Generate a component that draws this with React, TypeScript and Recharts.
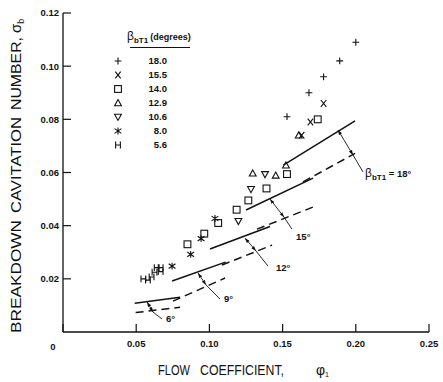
import React from 'react';
import { ScatterChart, Scatter, XAxis, YAxis, ReferenceLine, ReferenceDot } from 'recharts';

type Pt = { x: number; y: number };

// measured breakdown points, one array per blade angle (beta_bT1, degrees)
const beta180: Pt[] = [
  { x: 0.153, y: 0.081 }, { x: 0.168, y: 0.090 }, { x: 0.178, y: 0.096 },
  { x: 0.189, y: 0.102 }, { x: 0.200, y: 0.109 },
];
const beta155: Pt[] = [
  { x: 0.163, y: 0.074 }, { x: 0.169, y: 0.079 }, { x: 0.178, y: 0.086 },
];
const beta140: Pt[] = [
  { x: 0.085, y: 0.033 }, { x: 0.0965, y: 0.037 }, { x: 0.106, y: 0.041 },
  { x: 0.1186, y: 0.046 }, { x: 0.1266, y: 0.0495 }, { x: 0.139, y: 0.054 },
  { x: 0.153, y: 0.0594 }, { x: 0.174, y: 0.080 },
];
const beta129: Pt[] = [
  { x: 0.1296, y: 0.0597 }, { x: 0.1453, y: 0.0589 }, { x: 0.1523, y: 0.0627 },
  { x: 0.161, y: 0.074 },
];
const beta106: Pt[] = [
  { x: 0.1198, y: 0.0417 }, { x: 0.1284, y: 0.0537 }, { x: 0.138, y: 0.0593 },
];
const beta80: Pt[] = [
  { x: 0.0745, y: 0.0248 }, { x: 0.0872, y: 0.0292 }, { x: 0.0943, y: 0.0351 },
  { x: 0.1038, y: 0.0427 },
];
const beta56: Pt[] = [
  { x: 0.0549, y: 0.0200 }, { x: 0.0580, y: 0.0195 }, { x: 0.0605, y: 0.0207 },
  { x: 0.0625, y: 0.0225 }, { x: 0.0640, y: 0.0242 }, { x: 0.0667, y: 0.0242 },
  { x: 0.0667, y: 0.0227 },
];

// predicted breakdown: solid / dashed pairs
const solid6: Pt[] = [{ x: 0.049, y: 0.0108 }, { x: 0.080, y: 0.0131 }];
const dash6: Pt[] = [{ x: 0.0496, y: 0.0073 }, { x: 0.080, y: 0.0093 }];
const solid9: Pt[] = [{ x: 0.0745, y: 0.0192 }, { x: 0.111, y: 0.0263 }];
const dash9: Pt[] = [{ x: 0.0751, y: 0.0116 }, { x: 0.1107, y: 0.0203 }];
const solid12: Pt[] = [{ x: 0.1004, y: 0.0312 }, { x: 0.1414, y: 0.0397 }];
const dash12: Pt[] = [{ x: 0.1086, y: 0.0252 }, { x: 0.1428, y: 0.0327 }];
const solid15: Pt[] = [{ x: 0.125, y: 0.0459 }, { x: 0.1708, y: 0.0579 }];
const dash15: Pt[] = [{ x: 0.1325, y: 0.0387 }, { x: 0.1708, y: 0.0470 }];
const solid18: Pt[] = [{ x: 0.1505, y: 0.0628 }, { x: 0.1995, y: 0.0794 }];
const dash18: Pt[] = [{ x: 0.164, y: 0.0565 }, { x: 0.1995, y: 0.0672 }];

// leader lines solid -> dashed -> label
const leader6: Pt[] = [{ x: 0.0574, y: 0.0113 }, { x: 0.0615, y: 0.0075 }, { x: 0.0676, y: 0.0049 }];
const leader9: Pt[] = [{ x: 0.0922, y: 0.0222 }, { x: 0.0977, y: 0.0177 }, { x: 0.1072, y: 0.0124 }];
const leader12: Pt[] = [{ x: 0.1243, y: 0.0353 }, { x: 0.1318, y: 0.0305 }, { x: 0.140, y: 0.0248 }];
const leader15: Pt[] = [{ x: 0.1414, y: 0.0500 }, { x: 0.1510, y: 0.0432 }, { x: 0.1564, y: 0.0387 }];
const leader18: Pt[] = [{ x: 0.1878, y: 0.0760 }, { x: 0.1981, y: 0.0666 }, { x: 0.2049, y: 0.0602 }];

const angleLabels = [
  { x: 0.0703, y: 0.0038, text: '6°' },
  { x: 0.110, y: 0.0113, text: '9°' },
  { x: 0.1455, y: 0.0229, text: '12°' },
  { x: 0.1592, y: 0.0346, text: '15°' },
];
const betaLabel = { x: 0.2063, y: 0.0583, text: '= 18°' };

const xTicks = [0, 0.05, 0.1, 0.15, 0.2, 0.25];
const yTicks = [0.02, 0.04, 0.06, 0.08, 0.1, 0.12];
const frameTicksX = [0.05, 0.1, 0.15, 0.2];
const frameTicksY = [0.02, 0.04, 0.06, 0.08, 0.1];

const legendRows = [
  { kind: 'plus', label: '18.0' },
  { kind: 'cross', label: '15.5' },
  { kind: 'square', label: '14.0' },
  { kind: 'tri', label: '12.9' },
  { kind: 'tridown', label: '10.6' },
  { kind: 'star', label: '8.0' },
  { kind: 'h', label: '5.6' },
];

const FONT = '"Liberation Sans", Arial, Helvetica, sans-serif';
const INK = '#111';

function Marker({ kind, cx, cy }: { kind: string; cx: number; cy: number }) {
  const s = 3.4;
  const st = { stroke: INK, strokeWidth: 1.1, fill: 'none' };
  switch (kind) {
    case 'plus':
      return <path d={`M${cx - s},${cy}H${cx + s}M${cx},${cy - s}V${cy + s}`} {...st} />;
    case 'cross':
      return <path d={`M${cx - s * 0.8},${cy - s}L${cx + s * 0.8},${cy + s}M${cx + s * 0.8},${cy - s}L${cx - s * 0.8},${cy + s}`} {...st} />;
    case 'square':
      return <rect x={cx - s} y={cy - s} width={2 * s} height={2 * s} {...st} />;
    case 'tri':
      return <polygon points={`${cx},${cy - s} ${cx + s},${cy + s * 0.8} ${cx - s},${cy + s * 0.8}`} {...st} />;
    case 'tridown':
      return <polygon points={`${cx - s},${cy - s * 0.8} ${cx + s},${cy - s * 0.8} ${cx},${cy + s}`} {...st} />;
    case 'star':
      return <path d={`M${cx - s},${cy - s * 0.7}L${cx + s},${cy + s * 0.7}M${cx + s},${cy - s * 0.7}L${cx - s},${cy + s * 0.7}M${cx},${cy - s}V${cy + s}`} {...st} />;
    case 'h':
      return <path d={`M${cx - s * 0.7},${cy - s}V${cy + s}M${cx + s * 0.7},${cy - s}V${cy + s}M${cx - s * 0.7},${cy}H${cx + s * 0.7}`} {...st} />;
    default:
      return null;
  }
}

const shapeOf = (kind: string) => (p: any) => <Marker kind={kind} cx={p.cx} cy={p.cy} />;

const fmt = (v: number) => (v === 0 ? '0' : v.toFixed(2));

function XTick(props: any) {
  const { x, y, payload } = props;
  const zero = payload.value === 0;
  return (
    <text x={zero ? x - 10 : x} y={zero ? y + 3 : y} dy="0.71em" textAnchor="middle"
      fontFamily={FONT} fontSize={9.5} fontWeight="bold" fill={INK}>
      {fmt(payload.value)}
    </text>
  );
}

function YTick(props: any) {
  const { x, y, payload } = props;
  return (
    <text x={x} y={y} dy="0.355em" textAnchor="end" fontFamily={FONT} fontSize={9.5} fontWeight="bold" fill={INK}>
      {fmt(payload.value)}
    </text>
  );
}

function segments(pts: Pt[]) {
  const out: [Pt, Pt][] = [];
  for (let i = 0; i < pts.length - 1; i++) out.push([pts[i], pts[i + 1]]);
  return out;
}

// dimension arrow (solid -> dashed) gets heads at both ends
const arrowLine = (p: any) => (
  <line x1={p.x1} y1={p.y1} x2={p.x2} y2={p.y2} stroke={INK} strokeWidth={0.9}
    markerStart="url(#arrowHead)" markerEnd="url(#arrowHead)" />
);

const frame = { stroke: INK, strokeWidth: 1.3 };

export default function App() {
  const solids = [solid6, solid9, solid12, solid15, solid18];
  const dashes = [dash6, dash9, dash12, dash15, dash18];
  const leaders = [leader6, leader9, leader12, leader15, leader18];

  return (
    <div style={{ position: 'absolute', left: 0, top: 0, width: 443, height: 382, background: '#fff' }}>
      <svg width={0} height={0} style={{ position: 'absolute' }}>
        <defs>
          <marker id="arrowHead" viewBox="0 0 10 10" refX="10" refY="5" markerWidth="5" markerHeight="5"
            orient="auto-start-reverse" markerUnits="userSpaceOnUse">
            <path d="M0,1.5L10,5L0,8.5z" fill={INK} />
          </marker>
        </defs>
      </svg>
      <ScatterChart width={443} height={382} margin={{ top: 13, right: 14, bottom: 20, left: 23 }}>
        <XAxis type="number" dataKey="x" domain={[0, 0.25]} ticks={xTicks} height={30}
          tickSize={-8} tickMargin={16} tick={<XTick />} axisLine={frame}
          tickLine={{ stroke: INK, strokeWidth: 1.2 }} allowDataOverflow />
        <XAxis xAxisId="top" orientation="top" type="number" domain={[0, 0.25]} ticks={frameTicksX}
          height={0} tickSize={-8} tick={false} axisLine={frame} tickLine={{ stroke: INK, strokeWidth: 1.2 }} />
        <YAxis type="number" dataKey="y" domain={[0, 0.12]} ticks={yTicks} width={40}
          tickSize={-8} tickMargin={12} tick={<YTick />} axisLine={frame}
          tickLine={{ stroke: INK, strokeWidth: 1.2 }} allowDataOverflow />
        <YAxis yAxisId="right" orientation="right" type="number" domain={[0, 0.12]} ticks={frameTicksY}
          width={0} tickSize={-8} tick={false} axisLine={frame} tickLine={{ stroke: INK, strokeWidth: 1.2 }} />

        {solids.map((s, i) => (
          <ReferenceLine key={`s${i}`} segment={[s[0], s[1]]} stroke={INK} strokeWidth={1.5} ifOverflow="visible" />
        ))}
        {dashes.map((s, i) => (
          <ReferenceLine key={`d${i}`} segment={[s[0], s[1]]} stroke={INK} strokeWidth={1.5}
            strokeDasharray="8 5" ifOverflow="visible" />
        ))}
        {leaders.flatMap((l, i) =>
          segments(l).map((seg, j) => (
            <ReferenceLine key={`l${i}-${j}`} segment={seg} stroke={INK} strokeWidth={0.9} ifOverflow="visible"
              shape={j === 0 ? arrowLine : undefined} />
          ))
        )}
        {angleLabels.map((a) => (
          <ReferenceDot key={a.text} x={a.x} y={a.y} r={0} fill="none" stroke="none" ifOverflow="visible"
            label={{
              content: (p: any) => (
                <text x={p.viewBox.x} y={p.viewBox.y} fontFamily={FONT} fontSize={9.5} fontWeight="bold" fill={INK}>
                  {a.text}
                </text>
              ),
            }} />
        ))}
        <ReferenceDot x={betaLabel.x} y={betaLabel.y} r={0} fill="none" stroke="none" ifOverflow="visible"
          label={{
            content: (p: any) => (
              <text x={p.viewBox.x} y={p.viewBox.y} fontFamily={FONT} fontSize={9.5} fontWeight="bold" fill={INK}>
                <tspan fontSize={12} fontWeight="normal">β</tspan>
                <tspan fontSize={8} dy={3}>bT1</tspan>
                <tspan dy={-3}>{' ' + betaLabel.text}</tspan>
              </text>
            ),
          }} />

        <Scatter data={beta180} shape={shapeOf('plus')} isAnimationActive={false} />
        <Scatter data={beta155} shape={shapeOf('cross')} isAnimationActive={false} />
        <Scatter data={beta140} shape={shapeOf('square')} isAnimationActive={false} />
        <Scatter data={beta129} shape={shapeOf('tri')} isAnimationActive={false} />
        <Scatter data={beta106} shape={shapeOf('tridown')} isAnimationActive={false} />
        <Scatter data={beta80} shape={shapeOf('star')} isAnimationActive={false} />
        <Scatter data={beta56} shape={shapeOf('h')} isAnimationActive={false} />
      </ScatterChart>

      <svg width={443} height={382} style={{ position: 'absolute', left: 0, top: 0, pointerEvents: 'none' }}>
        {/* legend */}
        <text x={127} y={40} fontFamily={FONT} fill={INK}>
          <tspan fontSize={12}>β</tspan>
          <tspan fontSize={8} fontWeight="bold" dy={3}>bT1</tspan>
          <tspan fontSize={9} fontWeight="bold" dy={-3} dx={2}>(degrees)</tspan>
        </text>
        <line x1={130} x2={190} y1={47.5} y2={47.5} stroke={INK} strokeWidth={1} />
        {legendRows.map((r, i) => (
          <g key={r.label}>
            <Marker kind={r.kind} cx={118} cy={61 + i * 14} />
            <text x={167} y={64 + i * 14} textAnchor="end" fontFamily={FONT} fontSize={9.5} fontWeight="bold" fill={INK}>
              {r.label}
            </text>
          </g>
        ))}

        {/* axis titles */}
        <text y={375} fontFamily={FONT} fontSize={14} fill={INK}>
          <tspan x={158} textLength={32} lengthAdjust="spacingAndGlyphs">FLOW</tspan>
          <tspan x={200} textLength={84} lengthAdjust="spacingAndGlyphs">COEFFICIENT,</tspan>
          <tspan x={316} fontSize={14}>φ</tspan>
          <tspan fontSize={7} dy={2}>1</tspan>
        </text>
        <g transform="translate(21, 333) rotate(-90)">
          <text y={0} fontFamily={FONT} fontSize={15} fill={INK}>
            <tspan x={0} textLength={113} lengthAdjust="spacingAndGlyphs">BREAKDOWN</tspan>
            <tspan x={120} textLength={96} lengthAdjust="spacingAndGlyphs">CAVITATION</tspan>
            <tspan x={223} textLength={73} lengthAdjust="spacingAndGlyphs">NUMBER,</tspan>
            <tspan x={300}>σ</tspan>
            <tspan fontSize={9} dy={3}>b</tspan>
          </text>
        </g>
      </svg>
    </div>
  );
}
